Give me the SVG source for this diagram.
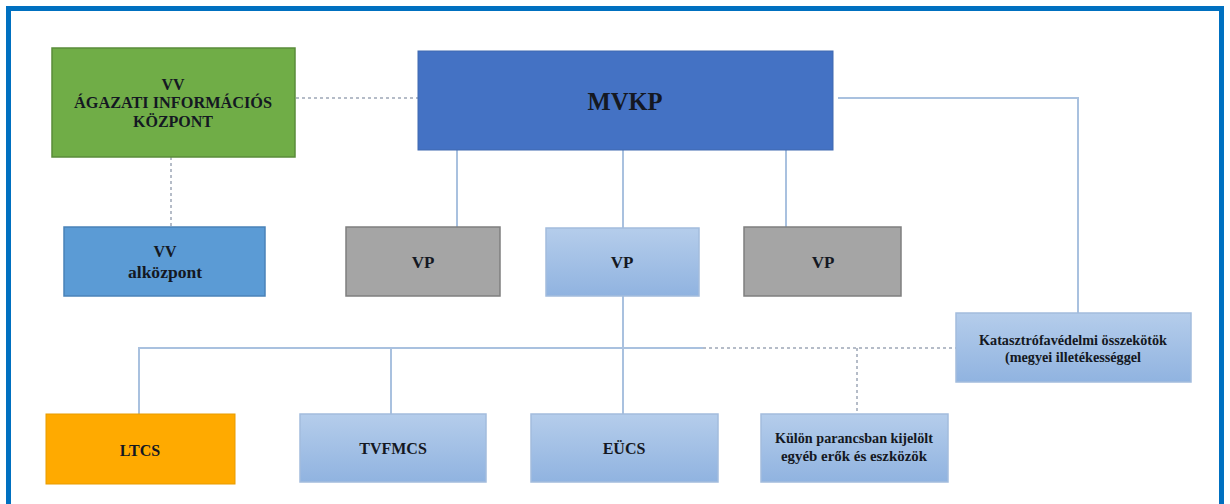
<svg xmlns="http://www.w3.org/2000/svg" width="1230" height="504" viewBox="0 0 1230 504">
<style>
.t{font-family:"Liberation Serif","DejaVu Serif",serif;font-weight:bold;fill:#141822;text-anchor:middle}
.ln{stroke:#A9C1DF;stroke-width:2;fill:none}
.dt{stroke:#B5BCC8;stroke-width:2;fill:none;stroke-dasharray:3 3}
.lb{fill:url(#lg);stroke:#A3BCDD;stroke-width:1.5}
.gr{fill:#A5A5A5;stroke:#7F7F7F;stroke-width:1.5}
</style>
<defs>
<linearGradient id="lg" x1="0" y1="0" x2="0" y2="1">
<stop offset="0" stop-color="#B5CDEB"/>
<stop offset="1" stop-color="#90B3E0"/>
</linearGradient>
</defs>
<rect x="0" y="0" width="1230" height="504" fill="#FFFFFF"/>
<rect x="8.5" y="8.5" width="1213" height="510" fill="#FFFFFF" stroke="#0070C0" stroke-width="5"/>
<g id="connectors">
<line class="dt" x1="296" y1="98" x2="418" y2="98"/>
<line class="dt" x1="171" y1="157" x2="171" y2="227"/>
<line class="ln" x1="457" y1="150" x2="457" y2="227"/>
<line class="ln" x1="623" y1="150" x2="623" y2="228"/>
<line class="ln" x1="786" y1="150" x2="786" y2="227"/>
<polyline class="ln" points="838,98 1078,98 1078,313"/>
<line class="ln" x1="623" y1="296" x2="623" y2="414"/>
<polyline class="ln" points="139,414 139,348 703,348"/>
<line class="ln" x1="391" y1="348" x2="391" y2="414"/>
<line class="dt" x1="703" y1="348" x2="956" y2="348"/>
<line class="dt" x1="857" y1="348" x2="857" y2="414"/>
</g>
<g id="vv-agazati">
<rect x="52" y="48" width="243" height="109" fill="#70AD47" stroke="#5A8C3A" stroke-width="1.5"/>
<text class="t" x="173" y="90" font-size="16">VV</text>
<text class="t" x="173" y="108" font-size="16" textLength="198" lengthAdjust="spacingAndGlyphs">ÁGAZATI INFORMÁCIÓS</text>
<text class="t" x="173" y="127" font-size="16">KÖZPONT</text>
</g>
<g id="mvkp">
<rect x="418" y="51" width="415" height="99" fill="#4472C4" stroke="#3F68B0" stroke-width="1"/>
<text class="t" x="625" y="110" font-size="25" textLength="75" lengthAdjust="spacingAndGlyphs">MVKP</text>
</g>
<g id="vv-alkozpont">
<rect x="64" y="227" width="201" height="69" fill="#5B9BD5" stroke="#4A82B8" stroke-width="1.5"/>
<text class="t" x="165" y="257" font-size="16">VV</text>
<text class="t" x="165" y="278" font-size="16" textLength="74" lengthAdjust="spacingAndGlyphs">alközpont</text>
</g>
<g id="vp1">
<rect class="gr" x="346" y="227" width="154" height="69"/>
<text class="t" x="423" y="268" font-size="17">VP</text>
</g>
<g id="vp2">
<rect class="lb" x="546" y="228" width="153" height="68"/>
<text class="t" x="622" y="268" font-size="17">VP</text>
</g>
<g id="vp3">
<rect class="gr" x="744" y="227" width="157" height="69"/>
<text class="t" x="823" y="268" font-size="17">VP</text>
</g>
<g id="katasztrofa">
<rect class="lb" x="956" y="313" width="235" height="69"/>
<text class="t" x="1073" y="345" font-size="14" textLength="188" lengthAdjust="spacingAndGlyphs">Katasztrófavédelmi összekötök</text>
<text class="t" x="1073" y="362" font-size="14" textLength="136" lengthAdjust="spacingAndGlyphs">(megyei illetékességgel</text>
</g>
<g id="ltcs">
<rect x="46" y="414" width="189" height="70" fill="#FFAA00" stroke="#E89B00" stroke-width="1"/>
<text class="t" x="140" y="456" font-size="16">LTCS</text>
</g>
<g id="tvfmcs">
<rect class="lb" x="300" y="414" width="186" height="68"/>
<text class="t" x="393" y="454" font-size="16">TVFMCS</text>
</g>
<g id="eucs">
<rect class="lb" x="531" y="414" width="187" height="68"/>
<text class="t" x="624" y="454" font-size="16">EÜCS</text>
</g>
<g id="kulon">
<rect class="lb" x="761" y="414" width="187" height="68"/>
<text class="t" x="854" y="443" font-size="14" textLength="158" lengthAdjust="spacingAndGlyphs">Külön parancsban kijelölt</text>
<text class="t" x="854" y="461" font-size="14" textLength="146" lengthAdjust="spacingAndGlyphs">egyéb erők és eszközök</text>
</g>
</svg>
